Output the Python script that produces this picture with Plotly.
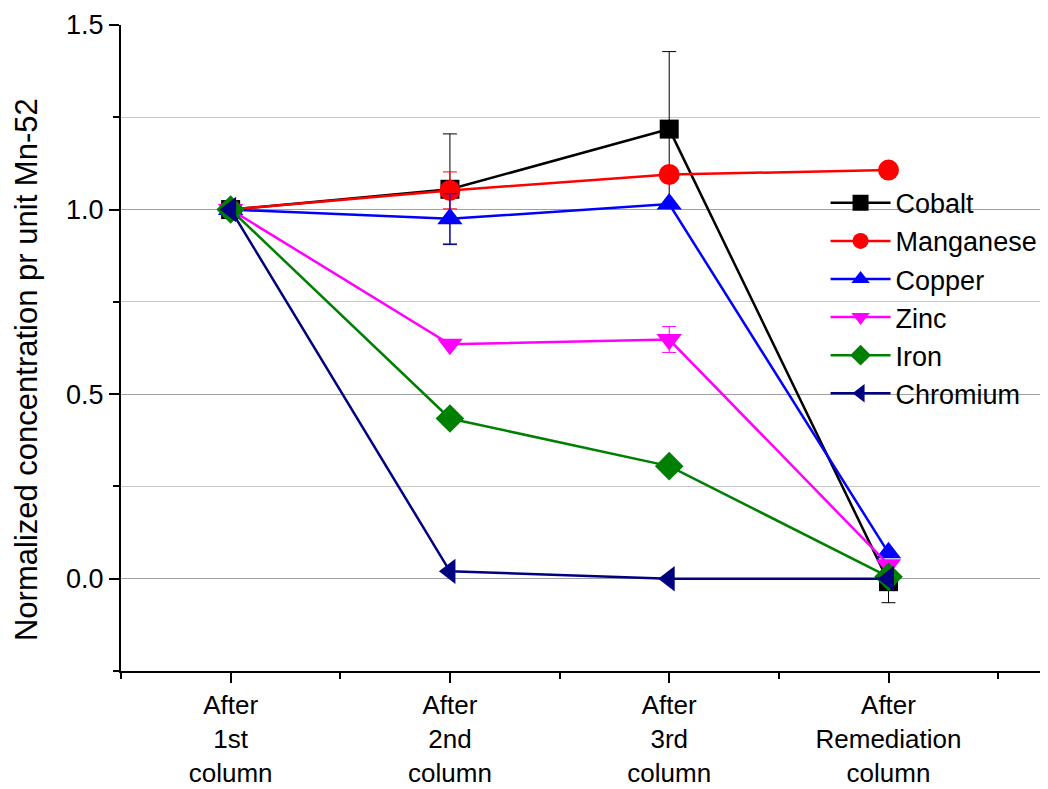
import plotly.graph_objects as go

categories = ["After<br>1st<br>column", "After<br>2nd<br>column", "After<br>3rd<br>column", "After<br>Remediation<br>column"]
x_idx = [0, 1, 2, 3]

cobalt = [1.0, 1.055, 1.218, -0.008]
cobalt_err = [0.0, 0.15, 0.21, 0.057]
manganese = [1.0, 1.052, 1.095, 1.107]
manganese_err = [0.0, 0.05, 0.0, 0.0]
copper = [1.0, 0.975, 1.015, 0.07]
copper_err = [0.0, 0.068, 0.0, 0.0]
zinc = [1.0, 0.635, 0.648, 0.038]
zinc_err = [0.0, 0.0, 0.035, 0.0]
iron = [1.0, 0.434, 0.305, 0.005]
chromium = [1.0, 0.02, 0.0, 0.0]

y_title = "Normalized concentration pr unit Mn-52"

series = [
    ("Cobalt", cobalt, cobalt_err, "#000000", "square", 19),
    ("Manganese", manganese, manganese_err, "#FF0000", "circle", 21),
    ("Copper", copper, copper_err, "#0000FF", "triangle-up", 22),
    ("Zinc", zinc, zinc_err, "#FF00FF", "triangle-down", 22),
    ("Iron", iron, None, "#008000", "diamond", 22),
    ("Chromium", chromium, None, "#000080", "triangle-left", 22),
]

fig = go.Figure()
for name, ys, err, col, sym, sz in series:
    kw = {}
    if err is not None:
        kw["error_y"] = dict(type="data", array=err, visible=True, color=col, thickness=1, width=7)
    fig.add_trace(go.Scatter(
        x=x_idx, y=ys, name=name, mode="lines+markers",
        line=dict(color=col, width=2.5),
        marker=dict(symbol=sym, size=sz, color=col),
        **kw
    ))

fig.update_layout(
    width=1048, height=789,
    margin=dict(l=113, r=14, t=17, b=126, autoexpand=False),
    plot_bgcolor="white", paper_bgcolor="white",
    font=dict(family="Arial, Liberation Sans", size=27, color="black"),
    legend=dict(x=0.765, y=0.762, xanchor="left", yanchor="top",
                bgcolor="rgba(0,0,0,0)", font=dict(size=27), tracegroupgap=0,
                itemwidth=60),
    showlegend=True,
)
fig.add_annotation(
    text=y_title, xref="paper", yref="paper", x=-0.102, y=0.466,
    xanchor="center", yanchor="middle", textangle=-90, showarrow=False,
    font=dict(size=31, color="black"),
)
fig.update_xaxes(
    range=[-0.5, 3.7], tickmode="array", tickvals=x_idx, ticktext=categories,
    automargin=False, tickfont=dict(size=26),
    showline=True, linecolor="black", linewidth=2, ticks="outside", ticklen=10,
    tickwidth=2, tickcolor="black", showgrid=False, zeroline=False,
    minor=dict(tickmode="array", tickvals=[-0.5, 0.5, 1.5, 2.5, 3.5], ticks="outside", ticklen=6, tickwidth=2, tickcolor="black"),
)
fig.update_yaxes(
    range=[-0.25, 1.5], tickmode="array", tickvals=[0.0, 0.5, 1.0, 1.5],
    ticktext=["0.0", "0.5", "1.0", "1.5"],
    automargin=False,
    showline=True, linecolor="black", linewidth=2, ticks="outside", ticklen=10,
    tickwidth=2, tickcolor="black", showgrid=True, gridcolor="#a0a0a0", gridwidth=1,
    zeroline=False,
    minor=dict(tickmode="array", tickvals=[-0.25, 0.25, 0.75, 1.25], ticks="outside", ticklen=6,
               tickwidth=2, tickcolor="black", showgrid=True, gridcolor="#c8c8c8", gridwidth=1),
)

fig.write_html("out.html")
